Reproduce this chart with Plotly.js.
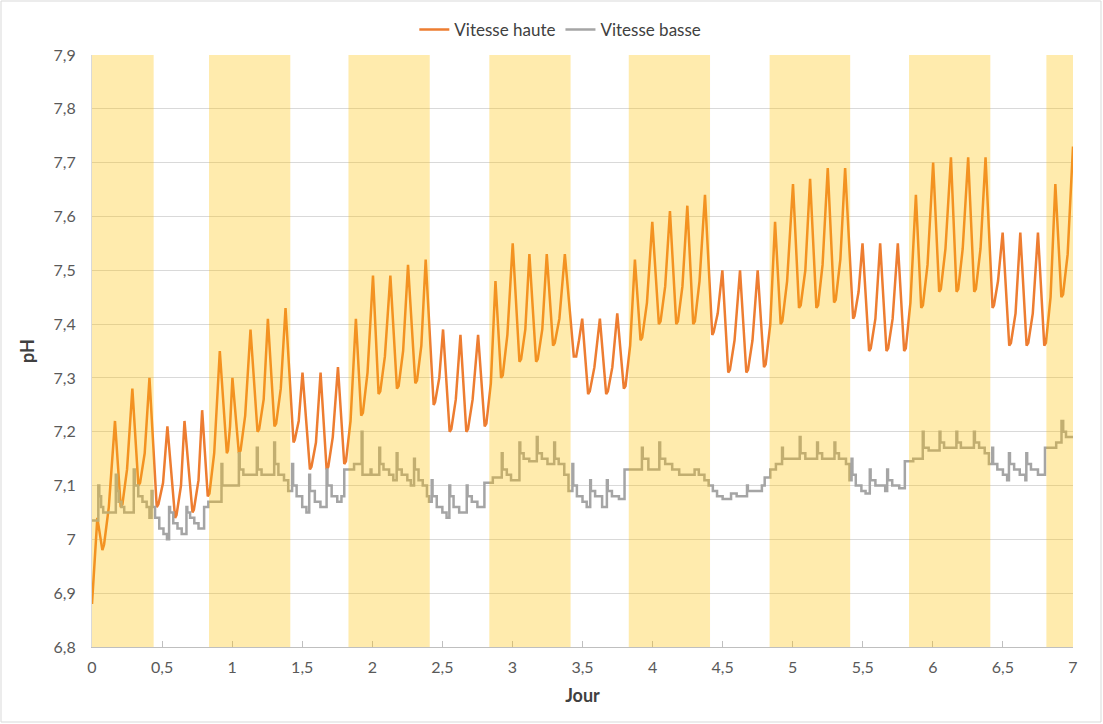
<!DOCTYPE html>
<html><head><meta charset="utf-8">
<script src="https://cdn.plot.ly/plotly-3.0.1.min.js"></script>
<style>html,body{margin:0;padding:0;background:#fff}#chart{width:1103px;height:724px}</style>
</head><body><div id="chart"></div>
<script>
// Vitesse haute (orange): per cycle -> peak, trough, end of flat bottom, mid-rise
const hauteX = [
  0, 0.038, 0.074, 0.086, 0.12,
  0.164, 0.205, 0.217, 0.25,
  0.288, 0.331, 0.343, 0.376,
  0.41, 0.462, 0.474, 0.507,
  0.538, 0.593, 0.603, 0.635,
  0.66, 0.717, 0.727, 0.76,
  0.786, 0.826, 0.838, 0.872,
  0.912, 0.962, 0.97, 0.985,
  1.002, 1.048, 1.06, 1.093,
  1.131, 1.181, 1.193, 1.225,
  1.255, 1.302, 1.314, 1.347,
  1.381, 1.438, 1.447, 1.475,
  1.502, 1.555, 1.566, 1.598,
  1.631, 1.674, 1.686, 1.718,
  1.755, 1.80, 1.812, 1.845,
  1.883, 1.921, 1.933, 1.966,
  2.005, 2.045, 2.057, 2.09,
  2.129, 2.176, 2.188, 2.22,
  2.255, 2.307, 2.319, 2.35,
  2.381, 2.438, 2.448, 2.478,
  2.505, 2.552, 2.564, 2.596,
  2.629, 2.671, 2.683, 2.716,
  2.755, 2.802, 2.814, 2.846,
  2.879, 2.919, 2.931, 2.964,
  3.002, 3.05, 3.062, 3.092,
  3.121, 3.169, 3.181, 3.213,
  3.245, 3.29, 3.302, 3.335,
  3.374, 3.438, 3.455, 3.475,
  3.498, 3.54, 3.552, 3.585,
  3.624, 3.669, 3.681, 3.713,
  3.748, 3.795, 3.807, 3.84,
  3.874, 3.914, 3.926, 3.96,
  3.998, 4.045, 4.057, 4.09,
  4.124, 4.169, 4.181, 4.213,
  4.248, 4.29, 4.302, 4.335,
  4.374, 4.426, 4.436, 4.465,
  4.498, 4.54, 4.552, 4.585,
  4.624, 4.669, 4.681, 4.713,
  4.75, 4.795, 4.807, 4.84,
  4.874, 4.914, 4.926, 4.96,
  5.002, 5.045, 5.057, 5.09,
  5.124, 5.169, 5.181, 5.213,
  5.25, 5.295, 5.307, 5.34,
  5.374, 5.431, 5.441, 5.47,
  5.498, 5.545, 5.557, 5.59,
  5.624, 5.669, 5.681, 5.713,
  5.75, 5.795, 5.807, 5.84,
  5.879, 5.917, 5.929, 5.962,
  6.002, 6.045, 6.057, 6.09,
  6.129, 6.169, 6.181, 6.213,
  6.252, 6.295, 6.307, 6.34,
  6.376, 6.426, 6.436, 6.465,
  6.498, 6.545, 6.557, 6.59,
  6.624, 6.669, 6.681, 6.713,
  6.75, 6.795, 6.807, 6.84,
  6.874, 6.917, 6.929, 6.962,
  7.0];
const hauteY = [
  6.88, 7.04, 6.98, 6.99, 7.06,
  7.22, 7.06, 7.065, 7.13,
  7.28, 7.10, 7.105, 7.16,
  7.30, 7.06, 7.065, 7.105,
  7.21, 7.04, 7.045, 7.10,
  7.22, 7.05, 7.055, 7.11,
  7.24, 7.08, 7.085, 7.16,
  7.35, 7.16, 7.165, 7.21,
  7.30, 7.16, 7.165, 7.23,
  7.39, 7.20, 7.205, 7.26,
  7.41, 7.21, 7.215, 7.28,
  7.43, 7.18, 7.185, 7.22,
  7.31, 7.13, 7.135, 7.18,
  7.31, 7.13, 7.135, 7.19,
  7.32, 7.14, 7.145, 7.22,
  7.41, 7.23, 7.235, 7.31,
  7.49, 7.27, 7.275, 7.34,
  7.49, 7.28, 7.285, 7.35,
  7.51, 7.29, 7.295, 7.36,
  7.52, 7.25, 7.255, 7.30,
  7.39, 7.20, 7.205, 7.26,
  7.38, 7.20, 7.205, 7.26,
  7.38, 7.21, 7.215, 7.29,
  7.48, 7.30, 7.305, 7.38,
  7.55, 7.33, 7.335, 7.39,
  7.53, 7.33, 7.335, 7.39,
  7.53, 7.36, 7.365, 7.41,
  7.53, 7.34, 7.34, 7.37,
  7.41, 7.27, 7.275, 7.32,
  7.41, 7.27, 7.275, 7.32,
  7.42, 7.28, 7.285, 7.36,
  7.52, 7.37, 7.375, 7.44,
  7.59, 7.40, 7.405, 7.47,
  7.61, 7.40, 7.405, 7.47,
  7.62, 7.40, 7.405, 7.48,
  7.64, 7.38, 7.385, 7.42,
  7.50, 7.31, 7.315, 7.37,
  7.50, 7.31, 7.315, 7.37,
  7.50, 7.32, 7.325, 7.40,
  7.59, 7.40, 7.405, 7.48,
  7.66, 7.43, 7.435, 7.50,
  7.67, 7.43, 7.435, 7.51,
  7.69, 7.44, 7.445, 7.52,
  7.69, 7.41, 7.415, 7.46,
  7.55, 7.35, 7.355, 7.41,
  7.55, 7.35, 7.355, 7.41,
  7.55, 7.35, 7.355, 7.44,
  7.64, 7.43, 7.435, 7.51,
  7.70, 7.46, 7.465, 7.54,
  7.71, 7.46, 7.465, 7.54,
  7.71, 7.46, 7.465, 7.54,
  7.71, 7.43, 7.435, 7.48,
  7.57, 7.36, 7.365, 7.42,
  7.57, 7.36, 7.365, 7.42,
  7.57, 7.36, 7.365, 7.45,
  7.66, 7.45, 7.455, 7.53,
  7.73];

// Vitesse basse (grey): stepped readings (value holds until next time)
const basseX = [
  0, 0.045, 0.052, 0.065, 0.08,
  0.17, 0.178, 0.19, 0.21, 0.23,
  0.298, 0.305, 0.33, 0.36, 0.39, 0.41,
  0.425, 0.432, 0.45, 0.48, 0.51, 0.535,
  0.55, 0.557, 0.58, 0.61, 0.64,
  0.674, 0.68, 0.70, 0.73, 0.76,
  0.80, 0.83,
  0.924, 0.93,
  1.048, 1.054, 1.08,
  1.176, 1.183, 1.21,
  1.30, 1.306, 1.33, 1.37, 1.40,
  1.428, 1.435, 1.46, 1.50, 1.53,
  1.55, 1.556, 1.59, 1.63,
  1.674, 1.68, 1.71, 1.75, 1.78,
  1.80, 1.87,
  1.924, 1.93, 1.988, 1.994,
  2.05, 2.056, 2.08, 2.12, 2.15,
  2.174, 2.18, 2.21, 2.25, 2.275,
  2.298, 2.304, 2.33, 2.36, 2.39, 2.405,
  2.424, 2.43, 2.46, 2.50, 2.53,
  2.55, 2.556, 2.58, 2.62,
  2.674, 2.68, 2.71, 2.75,
  2.80, 2.86,
  2.924, 2.93, 2.96, 2.99,
  3.05, 3.056, 3.08, 3.12,
  3.174, 3.18, 3.21, 3.25,
  3.298, 3.304, 3.33, 3.37, 3.40,
  3.428, 3.434, 3.46, 3.50, 3.53,
  3.555, 3.56, 3.59, 3.64,
  3.674, 3.68, 3.71, 3.76,
  3.80, 3.88,
  3.924, 3.93, 3.97,
  4.048, 4.054, 4.09, 4.14, 4.19,
  4.30, 4.33, 4.37, 4.40, 4.43, 4.46, 4.50,
  4.56, 4.60, 4.674, 4.68, 4.78, 4.80, 4.84, 4.88,
  4.924, 4.93,
  5.05, 5.056, 5.09,
  5.174, 5.18, 5.21,
  5.298, 5.304, 5.33, 5.38, 5.405,
  5.42, 5.426, 5.45, 5.49, 5.52,
  5.55, 5.556, 5.59, 5.66,
  5.674, 5.68, 5.71, 5.76,
  5.80, 5.86,
  5.928, 5.934, 5.97,
  6.048, 6.054, 6.08,
  6.168, 6.174, 6.20,
  6.293, 6.30, 6.33, 6.37, 6.40,
  6.424, 6.43, 6.46, 6.50, 6.53,
  6.543, 6.55, 6.58, 6.62, 6.66,
  6.667, 6.673, 6.70, 6.75,
  6.80, 6.88,
  6.918, 6.93, 6.95, 7.0];
const basseY = [
  7.035, 7.10, 7.08, 7.06, 7.05,
  7.12, 7.09, 7.07, 7.06, 7.05,
  7.13, 7.10, 7.08, 7.07, 7.06, 7.04,
  7.09, 7.06, 7.04, 7.02, 7.01, 7.00,
  7.06, 7.05, 7.03, 7.02, 7.01,
  7.06, 7.05, 7.04, 7.03, 7.02,
  7.06, 7.07,
  7.14, 7.10,
  7.16, 7.13, 7.12,
  7.17, 7.13, 7.12,
  7.18, 7.14, 7.12, 7.11, 7.09,
  7.14, 7.10, 7.08, 7.06, 7.05,
  7.12, 7.09, 7.07, 7.06,
  7.13, 7.10, 7.08, 7.07, 7.08,
  7.13, 7.14,
  7.20, 7.12, 7.13, 7.12,
  7.17, 7.14, 7.13, 7.12, 7.11,
  7.16, 7.13, 7.12, 7.11, 7.10,
  7.15, 7.13, 7.11, 7.10, 7.08, 7.07,
  7.11, 7.08, 7.06, 7.05, 7.04,
  7.10, 7.08, 7.06, 7.05,
  7.10, 7.08, 7.07, 7.06,
  7.105, 7.115,
  7.16, 7.13, 7.12, 7.11,
  7.18, 7.16, 7.15, 7.145,
  7.19, 7.16, 7.15, 7.14,
  7.18, 7.15, 7.14, 7.12, 7.09,
  7.14, 7.10, 7.08, 7.07, 7.06,
  7.11, 7.09, 7.08, 7.06,
  7.11, 7.09, 7.08, 7.075,
  7.13, 7.13,
  7.17, 7.15, 7.13,
  7.18, 7.15, 7.14, 7.13, 7.12,
  7.13, 7.12, 7.11, 7.10, 7.09, 7.08, 7.075,
  7.085, 7.08, 7.10, 7.09, 7.10, 7.115, 7.13, 7.14,
  7.17, 7.15,
  7.19, 7.16, 7.15,
  7.18, 7.16, 7.15,
  7.18, 7.16, 7.15, 7.14, 7.11,
  7.15, 7.12, 7.10, 7.09, 7.085,
  7.13, 7.11, 7.10, 7.09,
  7.13, 7.11, 7.10, 7.095,
  7.145, 7.15,
  7.20, 7.17, 7.165,
  7.20, 7.18, 7.17,
  7.20, 7.18, 7.17,
  7.20, 7.18, 7.17, 7.16, 7.14,
  7.17, 7.14, 7.13, 7.12, 7.11,
  7.16, 7.14, 7.13, 7.12, 7.11,
  7.16, 7.14, 7.13, 7.12,
  7.17, 7.18,
  7.22, 7.20, 7.19, 7.19];

// Day periods (yellow bands)
const bandStart = [0, 0.835, 1.83, 2.835, 3.83, 4.835, 5.83, 6.81];
const bandEnd   = [0.44, 1.415, 2.41, 3.415, 4.41, 5.41, 6.41, 7.0];

const xTickVals = [0, 0.5, 1, 1.5, 2, 2.5, 3, 3.5, 4, 4.5, 5, 5.5, 6, 6.5, 7];
const xTickText = ['0', '0,5', '1', '1,5', '2', '2,5', '3', '3,5', '4', '4,5', '5', '5,5', '6', '6,5', '7'];
const yTickVals = [6.8, 6.9, 7.0, 7.1, 7.2, 7.3, 7.4, 7.5, 7.6, 7.7, 7.8, 7.9];
const yTickText = ['6,8', '6,9', '7', '7,1', '7,2', '7,3', '7,4', '7,5', '7,6', '7,7', '7,8', '7,9'];

const seriesNames = ['Vitesse haute', 'Vitesse basse'];
const seriesColors = ['#ED7D31', '#A5A5A5'];

if (hauteX.length !== hauteY.length || basseX.length !== basseY.length) {
  console.error('length mismatch', hauteX.length, hauteY.length, basseX.length, basseY.length);
}

const traces = [
  {x: hauteX, y: hauteY, type: 'scatter', mode: 'lines', name: seriesNames[0],
   line: {color: seriesColors[0], width: 2.5}},
  {x: basseX, y: basseY, type: 'scatter', mode: 'lines', name: seriesNames[1],
   line: {color: seriesColors[1], width: 2.5, shape: 'hv'}}
];

const shapes = bandStart.map((s, i) => ({
  type: 'rect', xref: 'x', yref: 'y', x0: s, x1: bandEnd[i], y0: 6.8, y1: 7.9,
  fillcolor: 'rgba(255,192,0,0.32)', line: {width: 0}, layer: 'above'
}));
// chart-area border
shapes.push({type: 'rect', xref: 'paper', yref: 'paper',
  x0: -91 / 981, x1: 1009 / 981, y0: -75 / 592, y1: 1 + 54 / 592,
  line: {color: '#D9D9D9', width: 1}, fillcolor: 'rgba(0,0,0,0)', layer: 'below'});

const layout = {
  width: 1103, height: 724,
  margin: {l: 92, r: 30, t: 55, b: 77},
  paper_bgcolor: '#ffffff', plot_bgcolor: '#ffffff',
  font: {family: 'Lato, Carlito, "Open Sans", sans-serif', size: 16, color: '#595959'},
  showlegend: true,
  legend: {orientation: 'h', xref: 'container', yref: 'container', x: 0.508, xanchor: 'center',
           y: 1 - 30 / 724, yanchor: 'middle', font: {size: 17, color: '#404040'},
           itemwidth: 30, traceorder: 'normal', bgcolor: 'rgba(0,0,0,0)'},
  xaxis: {range: [0, 7], tickvals: xTickVals, ticktext: xTickText, showgrid: false, zeroline: false,
          showline: true, linecolor: '#BFBFBF', linewidth: 1, ticks: 'inside', ticklen: 6, tickcolor: '#BFBFBF',
          tickfont: {size: 16, color: '#595959'}, ticklabelstandoff: 6, fixedrange: true,
          title: {text: '<b>Jour</b>', font: {size: 18, color: '#404040'}, standoff: 14}},
  yaxis: {range: [6.8, 7.9], tickvals: yTickVals, ticktext: yTickText, showgrid: true, gridcolor: '#D9D9D9',
          gridwidth: 1, zeroline: false, showline: true, linecolor: '#D9D9D9', linewidth: 1, ticks: '',
          tickfont: {size: 16, color: '#595959'}, ticklabelstandoff: 12, fixedrange: true,
          title: {text: '<b>pH</b>', font: {size: 18, color: '#404040'}, standoff: 14}},
  shapes: shapes
};

Plotly.newPlot('chart', traces, layout, {displayModeBar: false, staticPlot: true});
</script>
</body></html>
